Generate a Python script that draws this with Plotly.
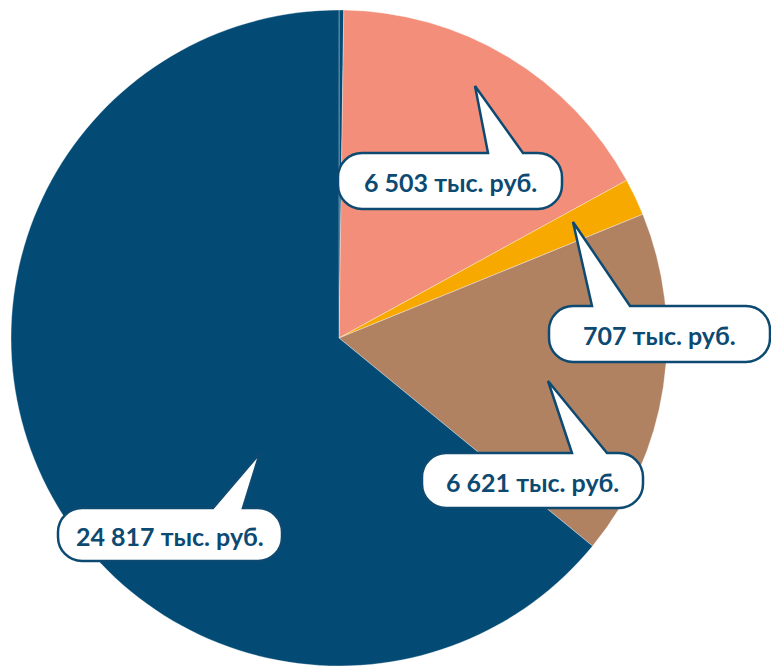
import plotly.graph_objects as go

W, H = 771, 666

# data
categories = ["Прочее", "Категория 1", "Категория 2", "Категория 3", "Категория 4"]
values = [90, 6503, 707, 6621, 24817]
colors = ["#034a75", "#f38e7a", "#f7a900", "#b18262", "#034a75"]
label_values = [6503, 707, 6621, 24817]

# callout geometry in pixels: box (x0, y0, x1, y1), tail tip, tail base x's
callouts = [
    dict(box=(338, 153, 562, 209), tip=(475, 86), base=(488, 523)),
    dict(box=(549, 306, 770, 362), tip=(573, 222), base=(592, 630)),
    dict(box=(422, 453, 643, 508), tip=(548, 381), base=(572, 607)),
    dict(box=(58, 508, 282, 561), tip=(260, 453), base=(213, 243)),
]

BLUE = "#0d4a72"


def P(x, y):
    return f"{x / W:.5f},{1 - y / H:.5f}"


def bubble_path(box, tip, base, r=24):
    x0, y0, x1, y1 = box
    k = 0.5523 * r
    b1, b2 = base
    parts = [
        "M" + P(x0 + r, y0),
        "L" + P(b1, y0),
        "L" + P(*tip),
        "L" + P(b2, y0),
        "L" + P(x1 - r, y0),
        "C" + P(x1 - r + k, y0) + " " + P(x1, y0 + r - k) + " " + P(x1, y0 + r),
        "L" + P(x1, y1 - r),
        "C" + P(x1, y1 - r + k) + " " + P(x1 - r + k, y1) + " " + P(x1 - r, y1),
        "L" + P(x0 + r, y1),
        "C" + P(x0 + r - k, y1) + " " + P(x0, y1 - r + k) + " " + P(x0, y1 - r),
        "L" + P(x0, y0 + r),
        "C" + P(x0, y0 + r - k) + " " + P(x0 + r - k, y0) + " " + P(x0 + r, y0),
        "Z",
    ]
    return " ".join(parts)


def fmt(v):
    return f"{v:,}".replace(",", " ") + " тыс. руб."


fig = go.Figure(
    go.Pie(
        labels=categories,
        values=values,
        sort=False,
        direction="clockwise",
        rotation=0,
        marker=dict(colors=colors, line=dict(color="rgba(255,255,255,0.35)", width=1)),
        textinfo="none",
        textposition="none",
        hoverinfo="label+value",
        showlegend=False,
        domain=dict(x=[10 / W, 668 / W], y=[0, 1 - 10 / H]),
    )
)

shapes = []
annotations = []
for c, v in zip(callouts, label_values):
    shapes.append(
        dict(
            type="path",
            xref="paper",
            yref="paper",
            path=bubble_path(c["box"], c["tip"], c["base"]),
            fillcolor="white",
            line=dict(color=BLUE, width=2.5),
            layer="above",
        )
    )
    x0, y0, x1, y1 = c["box"]
    annotations.append(
        dict(
            x=(x0 + x1) / 2 / W,
            y=1 - ((y0 + y1) / 2 + 1) / H,
            xref="paper",
            yref="paper",
            text="<b>" + fmt(v) + "</b>",
            showarrow=False,
            xanchor="center",
            yanchor="middle",
            font=dict(family="Lato", size=25, color=BLUE),
        )
    )

fig.update_layout(
    width=W,
    height=H,
    margin=dict(l=0, r=0, t=0, b=0),
    paper_bgcolor="white",
    plot_bgcolor="white",
    shapes=shapes,
    annotations=annotations,
)

fig.write_html(
    "out.html",
    config={"displayModeBar": False},
    post_script="document.body.style.margin='0';document.body.style.overflow='hidden';",
)
